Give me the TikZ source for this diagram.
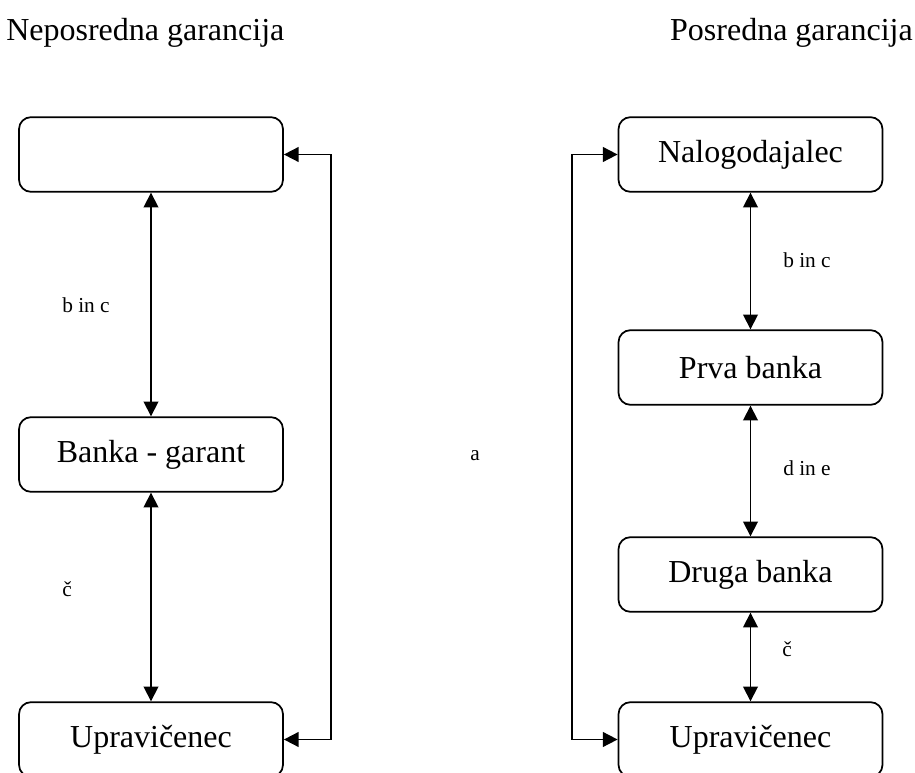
\documentclass[tikz,border=0pt]{standalone}
\usepackage{fontspec}
\setmainfont{Liberation Serif}
\usetikzlibrary{arrows.meta}
\begin{document}
\begin{tikzpicture}[x=0.75pt,y=-0.75pt,
  box/.style={draw,line width=1.3pt,rounded corners=9pt,minimum width=198pt,minimum height=56pt,inner sep=0pt,font=\fontsize{24}{28}\selectfont},
  lbl/.style={font=\fontsize{16}{19}\selectfont,inner sep=0pt},
  ttl/.style={font=\fontsize{24}{28}\selectfont,inner sep=0pt},
  conn/.style={line width=1.3pt,{Triangle[length=11pt,width=11pt]}-{Triangle[length=11pt,width=11pt]}}]
\clip (0,0) rectangle (915,773);
\useasboundingbox (0,0) rectangle (915,773);
% titles
\node[ttl,anchor=west] (t1) at (6,33) {Neposredna garancija};
\node[ttl,anchor=east] (t2) at (913,33) {Posredna garancija};
% left column
\node[box] (ltop) at (151,154.5) {};
\node[box] (lbank) at (151,454.5) {Banka - garant};
\node[box] (lupr) at (151,739.5) {Upravičenec};
% right column
\node[box] (nal) at (750.5,154.5) {Nalogodajalec};
\node[box] (prva) at (750.5,367.5) {Prva banka};
\node[box] (druga) at (750.5,574.5) {Druga banka};
\node[box] (rupr) at (750.5,739.5) {Upravičenec};
% loop positions
\coordinate (lx) at (331,0);
\coordinate (rx) at (572,0);
% connectors
\draw[conn] (ltop.south) -- (lbank.north);
\draw[conn] (lbank.south) -- (lupr.north);
\draw[conn] (ltop.east) -- (ltop.east -| lx) -- (lupr.east -| lx) -- (lupr.east);
\draw[conn] (nal.south) -- (prva.north);
\draw[conn] (prva.south) -- (druga.north);
\draw[conn] (druga.south) -- (rupr.north);
\draw[conn] (nal.west) -- (nal.west -| rx) -- (rupr.west -| rx) -- (rupr.west);
% labels
\node[lbl] (l1) at (86,305) {b in c};
\node[lbl] (l2) at (67,589) {č};
\node[lbl] (l3) at (475,456) {a};
\node[lbl] (r1) at (807,260) {b in c};
\node[lbl] (r2) at (807,468) {d in e};
\node[lbl] (r3) at (787,649) {č};
\end{tikzpicture}
\end{document}
